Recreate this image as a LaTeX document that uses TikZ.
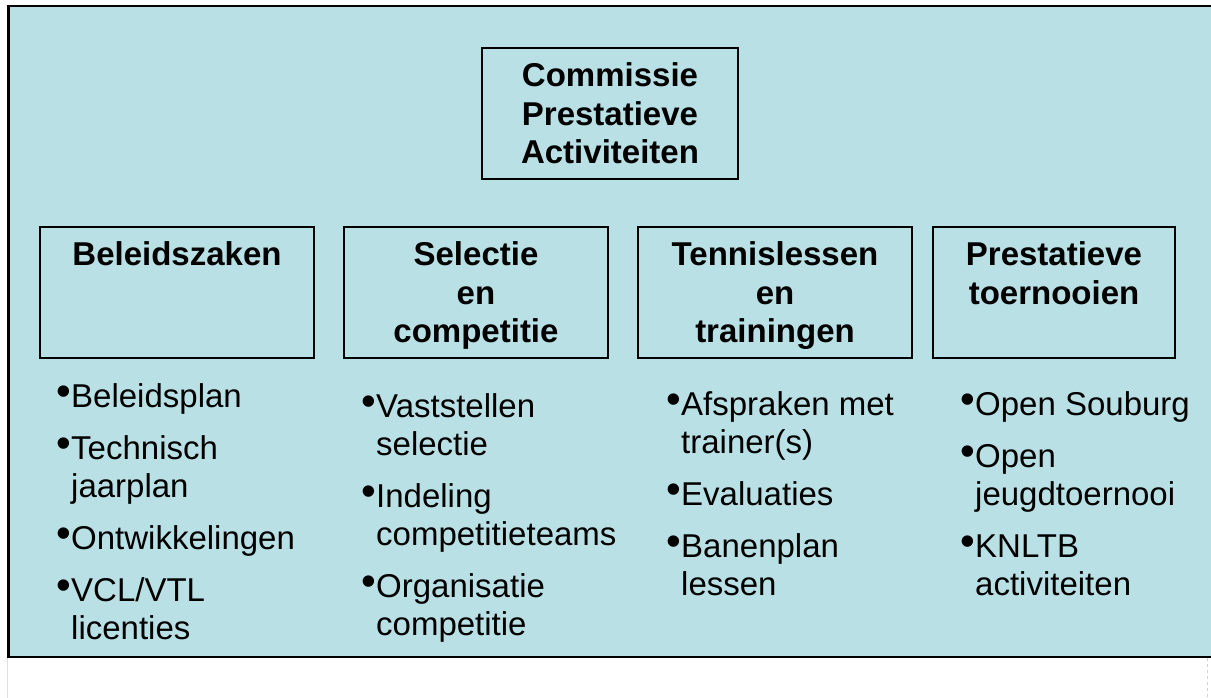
\documentclass[tikz,border=0pt]{standalone}
\usepackage{fontspec}
\setmainfont{Liberation Sans}
\definecolor{bgblue}{RGB}{185,224,228}
\newcommand{\itm}{\makebox[15pt][l]{\raisebox{2pt}{\fontsize{42}{42}\selectfont\textbullet}}}

\begin{document}
\begin{tikzpicture}[x=1pt, y=-1pt,
  box/.style={draw, line width=1.8pt, inner sep=0pt, anchor=north,
    text height=39pt, text depth=92pt,
    font=\fontsize{33}{38.5}\selectfont\bfseries},
  list/.style={inner sep=0pt, anchor=base west,
    font=\fontsize{33}{38}\selectfont}]

\useasboundingbox (0,0) rectangle (1211,698);
\draw[fill=bgblue, line width=2.5pt] (8.5,6) rectangle (1225,657);
\draw[gray!25] (7,658) -- (7,698);
\draw[gray!35, dashed] (1207,658) -- (1207,698);

% top box
\node[box, minimum width=256pt] (top) at (610,47)
  {\begin{tabular}[t]{@{}c@{}}Commissie\\Prestatieve\\Activiteiten\end{tabular}};

% the four groups
\node[box, minimum width=274pt] (b1) at (177,226)
  {\begin{tabular}[t]{@{}c@{}}Beleidszaken\end{tabular}};
\node[box, minimum width=264pt] (b2) at (476,226)
  {\begin{tabular}[t]{@{}c@{}}Selectie\\en\\competitie\end{tabular}};
\node[box, minimum width=274pt] (b3) at (775,226)
  {\begin{tabular}[t]{@{}c@{}}Tennislessen\\en\\trainingen\end{tabular}};
\node[box, minimum width=242pt] (b4) at (1054,226)
  {\begin{tabular}[t]{@{}c@{}}Prestatieve\\toernooien\end{tabular}};

% lists under the groups
\node[list] (l1) at (56,407) {\begin{tabular}[t]{@{}l@{}l@{}}
  \itm & Beleidsplan\\[14pt]
  \itm & Technisch\\
       & jaarplan\\[14pt]
  \itm & Ontwikkelingen\\[14pt]
  \itm & VCL/VTL\\
       & licenties
\end{tabular}};
\node[list] (l2) at (361,417) {\begin{tabular}[t]{@{}l@{}l@{}}
  \itm & Vaststellen\\
       & selectie\\[14pt]
  \itm & Indeling\\
       & competitieteams\\[14pt]
  \itm & Organisatie\\
       & competitie
\end{tabular}};
\node[list] (l3) at (666,415) {\begin{tabular}[t]{@{}l@{}l@{}}
  \itm & Afspraken met\\
       & trainer(s)\\[14pt]
  \itm & Evaluaties\\[14pt]
  \itm & Banenplan\\
       & lessen
\end{tabular}};
\node[list] (l4) at (960,415) {\begin{tabular}[t]{@{}l@{}l@{}}
  \itm & Open Souburg\\[14pt]
  \itm & Open\\
       & jeugdtoernooi\\[14pt]
  \itm & KNLTB\\
       & activiteiten
\end{tabular}};

\end{tikzpicture}
\end{document}
